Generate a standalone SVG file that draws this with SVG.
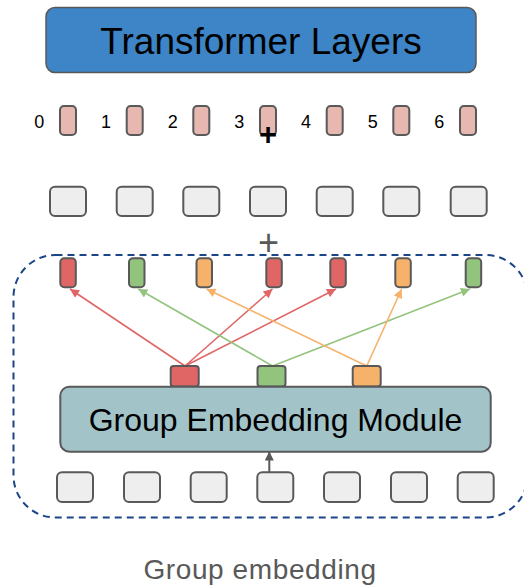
<svg xmlns="http://www.w3.org/2000/svg" width="524" height="587" viewBox="0 0 524 587">
<defs>
<style>
text{font-family:"Liberation Sans",Arial,sans-serif}
.box{stroke:#595959;stroke-width:2}
.gray{fill:#eeeeee}
.pink{fill:#e6b8af}
.red{fill:#e06666}
.green{fill:#93c47d}
.orange{fill:#f6b26b}
.num{font-size:18px;fill:#000;text-anchor:middle}
.lr{stroke:#e06666;stroke-width:1.6;fill:none}
.lg{stroke:#93c47d;stroke-width:1.6;fill:none}
.lo{stroke:#f6b26b;stroke-width:1.6;fill:none}
</style>
<marker id="ar" viewBox="0 0 10 10" refX="10" refY="5" markerWidth="11" markerHeight="9" markerUnits="userSpaceOnUse" orient="auto"><path d="M0,0L10,5L0,10z" fill="#e06666"/></marker>
<marker id="ag" viewBox="0 0 10 10" refX="10" refY="5" markerWidth="11" markerHeight="9" markerUnits="userSpaceOnUse" orient="auto"><path d="M0,0L10,5L0,10z" fill="#93c47d"/></marker>
<marker id="ao" viewBox="0 0 10 10" refX="10" refY="5" markerWidth="11" markerHeight="9" markerUnits="userSpaceOnUse" orient="auto"><path d="M0,0L10,5L0,10z" fill="#f6b26b"/></marker>
<marker id="ak" viewBox="0 0 10 10" refX="10" refY="5" markerWidth="11" markerHeight="9" markerUnits="userSpaceOnUse" orient="auto"><path d="M0,0L10,5L0,10z" fill="#595959"/></marker>
</defs>

<g id="transformer">
<rect x="46" y="7.5" width="430" height="65" rx="9" fill="#3d85c6" stroke="#595959" stroke-width="1.5"/>
<text x="261" y="54" font-size="37" text-anchor="middle" fill="#000">Transformer Layers</text>
</g>

<g id="positions">
<text class="num" x="39.3" y="128.3">0</text>
<text class="num" x="106" y="128.3">1</text>
<text class="num" x="172.7" y="128.3">2</text>
<text class="num" x="239.3" y="128.3">3</text>
<text class="num" x="306" y="128.3">4</text>
<text class="num" x="372.7" y="128.3">5</text>
<text class="num" x="439.3" y="128.3">6</text>
<rect class="box pink" x="60" y="106" width="16" height="29" rx="4"/>
<rect class="box pink" x="126.7" y="106" width="16" height="29" rx="4"/>
<rect class="box pink" x="193.3" y="106" width="16" height="29" rx="4"/>
<rect class="box pink" x="260" y="106" width="16" height="29" rx="4"/>
<rect class="box pink" x="326.7" y="106" width="16" height="29" rx="4"/>
<rect class="box pink" x="393.3" y="106" width="16" height="29" rx="4"/>
<rect class="box pink" x="460" y="106" width="16" height="29" rx="4"/>
</g>
<text id="plus1" x="268" y="145" font-size="31" font-weight="bold" text-anchor="middle" fill="#000">+</text>

<g id="tokens-top">
<rect class="box gray" x="50" y="186.7" width="36" height="29.3" rx="5"/>
<rect class="box gray" x="116.7" y="186.7" width="36" height="29.3" rx="5"/>
<rect class="box gray" x="183.3" y="186.7" width="36" height="29.3" rx="5"/>
<rect class="box gray" x="250" y="186.7" width="36" height="29.3" rx="5"/>
<rect class="box gray" x="316.7" y="186.7" width="36" height="29.3" rx="5"/>
<rect class="box gray" x="383.3" y="186.7" width="36" height="29.3" rx="5"/>
<rect class="box gray" x="450.7" y="186.7" width="36" height="29.3" rx="5"/>
</g>
<text id="plus2" x="268.5" y="254.5" font-size="36" text-anchor="middle" fill="#595959">+</text>

<g id="group-embedding">
<rect x="13.5" y="255" width="514" height="262.5" rx="42" fill="none" stroke="#1c4587" stroke-width="2" stroke-dasharray="7,5"/>

<g id="group-out">
<rect class="box red" x="60.3" y="258.3" width="15.5" height="29" rx="4"/>
<rect class="box green" x="129" y="258.3" width="15.5" height="29" rx="4"/>
<rect class="box orange" x="196.5" y="258.3" width="15.5" height="29" rx="4"/>
<rect class="box red" x="266.3" y="258.3" width="15.5" height="29" rx="4"/>
<rect class="box red" x="330.3" y="258.3" width="15.5" height="29" rx="4"/>
<rect class="box orange" x="395.3" y="258.3" width="15.5" height="29" rx="4"/>
<rect class="box green" x="465.7" y="258.3" width="15.5" height="29" rx="4"/>
</g>

<g id="connectors">
<line class="lr" x1="185" y1="366" x2="70" y2="289" marker-end="url(#ar)"/>
<line class="lr" x1="185" y1="366" x2="272.5" y2="289" marker-end="url(#ar)"/>
<line class="lr" x1="185" y1="366" x2="336" y2="289" marker-end="url(#ar)"/>
<line class="lg" x1="272.5" y1="366" x2="138.3" y2="289" marker-end="url(#ag)"/>
<line class="lg" x1="272.5" y1="366" x2="470" y2="289" marker-end="url(#ag)"/>
<line class="lo" x1="366.7" y1="366" x2="206.5" y2="289" marker-end="url(#ao)"/>
<line class="lo" x1="366.7" y1="366" x2="401.7" y2="289" marker-end="url(#ao)"/>
<line x1="269.3" y1="475" x2="269.3" y2="451.5" stroke="#595959" stroke-width="2" marker-end="url(#ak)"/>
</g>

<g id="group-keys">
<rect class="box red" x="170.7" y="366" width="28" height="20.5" rx="3"/>
<rect class="box green" x="257.5" y="366" width="28" height="20.5" rx="3"/>
<rect class="box orange" x="352.7" y="366" width="28" height="20.5" rx="3"/>
</g>

<g id="gem">
<rect x="60.3" y="386.7" width="430.4" height="65" rx="9" fill="#a2c4c9" stroke="#595959" stroke-width="2"/>
<text x="275.5" y="431" font-size="32" text-anchor="middle" fill="#000">Group Embedding Module</text>
</g>

<g id="tokens-bottom">
<rect class="box gray" x="57" y="472.3" width="36" height="29.7" rx="5"/>
<rect class="box gray" x="124" y="472.3" width="36" height="29.7" rx="5"/>
<rect class="box gray" x="190.7" y="472.3" width="36" height="29.7" rx="5"/>
<rect class="box gray" x="257.3" y="472.3" width="36" height="29.7" rx="5"/>
<rect class="box gray" x="324" y="472.3" width="36" height="29.7" rx="5"/>
<rect class="box gray" x="391" y="472.3" width="36" height="29.7" rx="5"/>
<rect class="box gray" x="457.7" y="472.3" width="36" height="29.7" rx="5"/>
</g>
</g>

<text id="caption" x="260" y="578.5" font-size="28" letter-spacing="0.6" text-anchor="middle" fill="#595959">Group embedding</text>
</svg>
